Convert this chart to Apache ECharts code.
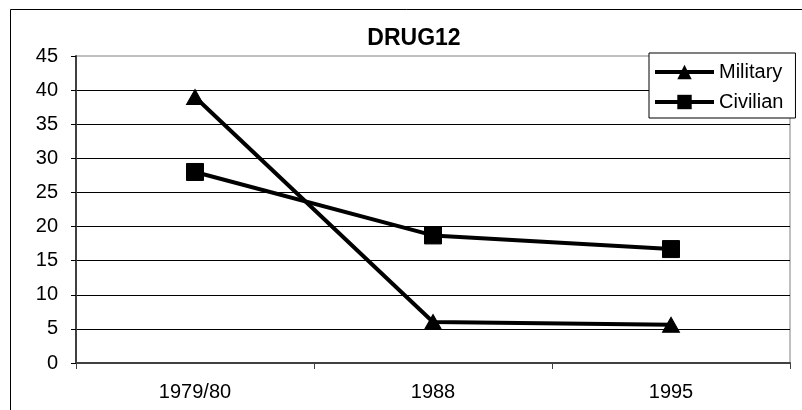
<!DOCTYPE html>
<html>
<head>
<meta charset="utf-8">
<script src="https://cdn.jsdelivr.net/npm/echarts@6/dist/echarts.min.js"></script>
<style>
  html, body { margin: 0; padding: 0; background: #fff; }
  #chart { width: 802px; height: 410px; }
</style>
</head>
<body>
<div id="chart"></div>
<script>
// Survey years and percentages for each group
const years = ['1979/80', '1988', '1995'];
const military = [39, 6.0, 5.6];
const civilian = [28, 18.7, 16.7];
const yTicks = { min: 0, max: 45, step: 5 };
const chartTitle = 'DRUG12';

const FONT = '"Liberation Sans", Arial, sans-serif';
const chart = echarts.init(document.getElementById('chart'), null, { renderer: 'canvas' });

chart.setOption({
  backgroundColor: '#fff',
  animation: false,
  graphic: [
    {
      type: 'rect',
      shape: { x: 10.5, y: 9.5, width: 820, height: 420 },
      style: { fill: 'none', stroke: '#000', lineWidth: 1 },
      silent: true,
      z: -10
    },
    {
      type: 'text',
      x: 414, y: 39,
      style: {
        text: chartTitle,
        font: 'bold 23px ' + FONT,
        fill: '#000',
        textAlign: 'center',
        textVerticalAlign: 'middle'
      }
    }
  ],
  grid: {
    left: 76, right: 12, top: 56, bottom: 47,
    show: true,
    backgroundColor: '#fff',
    borderColor: '#808080',
    borderWidth: 1
  },
  legend: {
    orient: 'vertical',
    left: 649, top: 53,
    padding: [9, 12, 6, 4],
    itemGap: 10,
    itemWidth: 59,
    itemHeight: 18,
    backgroundColor: '#fff',
    borderColor: '#000',
    borderWidth: 1,
    textStyle: { fontFamily: FONT, fontSize: 20, color: '#000', lineHeight: 20 },
    data: [
      { name: 'Military', lineStyle: { color: '#000', width: 4 }, itemStyle: { color: '#000' } },
      { name: 'Civilian', lineStyle: { color: '#000', width: 4 }, itemStyle: { color: '#000' } }
    ]
  },
  xAxis: {
    type: 'category',
    data: years,
    boundaryGap: true,
    axisLine: { lineStyle: { color: '#404040', width: 2 } },
    axisTick: { show: true, length: 6, interval: 0, lineStyle: { color: '#404040' } },
    axisLabel: { fontFamily: FONT, fontSize: 20, color: '#000', margin: 19 },
    splitLine: { show: false }
  },
  yAxis: {
    type: 'value',
    min: yTicks.min, max: yTicks.max, interval: yTicks.step,
    axisLine: { show: true, lineStyle: { color: '#404040', width: 2 } },
    axisTick: { show: true, length: 5, lineStyle: { color: '#000' } },
    axisLabel: { fontFamily: FONT, fontSize: 20, color: '#000', margin: 18 },
    splitLine: { show: true, showMaxLine: false, lineStyle: { color: '#000', width: 1 } }
  },
  series: [
    {
      name: 'Military',
      type: 'line',
      data: military,
      symbol: 'triangle',
      symbolSize: [17, 15],
      lineStyle: { color: '#000', width: 4 },
      itemStyle: { color: '#000', borderColor: '#000' },
      z: 3
    },
    {
      name: 'Civilian',
      type: 'line',
      data: civilian,
      symbol: 'rect',
      symbolSize: 17,
      lineStyle: { color: '#000', width: 4 },
      itemStyle: { color: '#000', borderColor: '#000' },
      z: 3
    }
  ]
});
</script>
</body>
</html>
